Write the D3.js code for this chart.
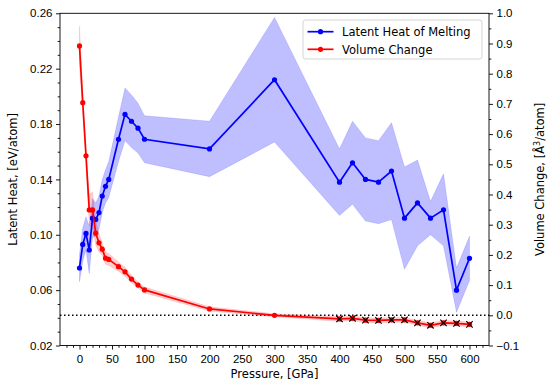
<!DOCTYPE html>
<html>
<head>
<meta charset="utf-8">
<script src="https://cdn.jsdelivr.net/npm/d3@7"></script>
<style>
  body { margin: 0; background: #fff; }
  svg { font-family: "DejaVu Sans", sans-serif; }
  .axis text { font-size: 11.5px; fill: #000; }
  .axis path, .axis line { stroke: #000; stroke-width: 0.9; }
</style>
</head>
<body>
<svg width="555" height="391"></svg>
<script>
// pressure points, GPa
var pressure = [0, 5, 10, 15, 20, 25, 30, 35, 40, 45, 60, 70, 80, 90, 100, 200, 300,
  400, 420, 440, 460, 480, 500, 520, 540, 560, 580, 600];
// latent heat of melting, eV/atom, and its spread
var latent = [0.076, 0.093, 0.101, 0.089, 0.112, 0.111, 0.116, 0.128, 0.135, 0.140, 0.169, 0.187, 0.182, 0.177, 0.169, 0.162, 0.212,
  0.138, 0.152, 0.140, 0.138, 0.146, 0.112, 0.123, 0.112, 0.118, 0.060, 0.083];
var latentErr = [0.010, 0.012, 0.012, 0.017, 0.014, 0.012, 0.012, 0.012, 0.012, 0.013, 0.016, 0.019, 0.019, 0.018, 0.017, 0.020, 0.045,
  0.024, 0.030, 0.030, 0.030, 0.035, 0.037, 0.031, 0.012, 0.026, 0.016, 0.016];
// volume change, A^3/atom, and its spread
var volume = [0.892, 0.704, 0.528, 0.349, 0.349, 0.272, 0.240, 0.219, 0.189, 0.185, 0.161, 0.144, 0.120, 0.100, 0.084, 0.021, 0.000,
  -0.012, -0.010, -0.016, -0.017, -0.015, -0.015, -0.025, -0.033, -0.025, -0.027, -0.030];
var volumeErr = [0.065, 0.03, 0.02, 0.05, 0.06, 0.04, 0.03, 0.02, 0.02, 0.02, 0.015, 0.015, 0.012, 0.01, 0.01, 0.007, 0.005,
  0.008, 0.008, 0.008, 0.008, 0.008, 0.008, 0.008, 0.008, 0.008, 0.008, 0.008];
// points from 400 GPa on are marked with a black cross
var crossFrom = 400;

var xTicks = d3.range(0, 601, 50);
var yLeftTicks = [0.02, 0.06, 0.10, 0.14, 0.18, 0.22, 0.26];
var yRightTicks = d3.range(-0.1, 1.01, 0.1);

var svg = d3.select('svg'),
  mLeft = 60, mRight = 489, mTop = 13.3, mBottom = 345.5;

var x = d3.scaleLinear().domain([-30, 630]).range([mLeft, mRight]);
var yL = d3.scaleLinear().domain([0.02, 0.26]).range([mBottom, mTop]);
var yR = d3.scaleLinear().domain([-0.1, 1.0]).range([mBottom, mTop]);

var data = pressure.map(function(p, i) {
  return {p: p, l: latent[i], le: latentErr[i], v: volume[i], ve: volumeErr[i]};
});

// dotted zero line for volume change
svg.append('line')
  .attr('x1', mLeft).attr('x2', mRight)
  .attr('y1', yR(0)).attr('y2', yR(0))
  .attr('stroke', '#000').attr('stroke-width', 1.5)
  .attr('stroke-dasharray', '1.5,2.5');

// bands
var blueBand = d3.area()
  .x(function(d) { return x(d.p); })
  .y0(function(d) { return yL(d.l - d.le); })
  .y1(function(d) { return yL(d.l + d.le); });
svg.append('path').datum(data).attr('d', blueBand)
  .attr('fill', 'rgba(0,0,255,0.25)')
  .attr('stroke', 'rgba(0,0,255,0.12)').attr('stroke-width', 1);

var redBand = d3.area()
  .x(function(d) { return x(d.p); })
  .y0(function(d) { return yR(d.v - d.ve); })
  .y1(function(d) { return yR(d.v + d.ve); });
svg.append('path').datum(data).attr('d', redBand)
  .attr('fill', 'rgba(255,0,0,0.2)')
  .attr('stroke', 'rgba(255,0,0,0.1)').attr('stroke-width', 1);

// lines
svg.append('path').datum(data)
  .attr('d', d3.line().x(function(d) { return x(d.p); }).y(function(d) { return yL(d.l); }))
  .attr('fill', 'none').attr('stroke', '#0000ff').attr('stroke-width', 1.7);
svg.selectAll('.bdot').data(data).enter().append('circle')
  .attr('cx', function(d) { return x(d.p); })
  .attr('cy', function(d) { return yL(d.l); })
  .attr('r', 2.6).attr('fill', '#0000ff');

svg.append('path').datum(data)
  .attr('d', d3.line().x(function(d) { return x(d.p); }).y(function(d) { return yR(d.v); }))
  .attr('fill', 'none').attr('stroke', '#ff0000').attr('stroke-width', 1.7);
svg.selectAll('.rdot').data(data).enter().append('circle')
  .attr('cx', function(d) { return x(d.p); })
  .attr('cy', function(d) { return yR(d.v); })
  .attr('r', 2.6).attr('fill', '#ff0000');

svg.selectAll('.cross')
  .data(data.filter(function(d) { return d.p >= crossFrom; }))
  .enter().append('path')
  .attr('d', function(d) {
    var cx = x(d.p), cy = yR(d.v), s = 3.2;
    return 'M' + (cx - s) + ',' + (cy - s) + 'L' + (cx + s) + ',' + (cy + s) +
      'M' + (cx - s) + ',' + (cy + s) + 'L' + (cx + s) + ',' + (cy - s);
  })
  .attr('stroke', '#000').attr('stroke-width', 1.2).attr('fill', 'none');

// frame
svg.append('rect')
  .attr('x', mLeft).attr('y', mTop)
  .attr('width', mRight - mLeft).attr('height', mBottom - mTop)
  .attr('fill', 'none').attr('stroke', '#000').attr('stroke-width', 0.9);

// axes
var xMinor = d3.range(-20, 621, 10).filter(function(v) { return v % 50 !== 0; });
svg.append('g').attr('class', 'axis')
  .attr('transform', 'translate(0,' + mBottom + ')')
  .call(d3.axisBottom(x).tickValues(xMinor).tickSize(2.3).tickSizeOuter(0).tickFormat(''));
svg.append('g').attr('class', 'axis')
  .attr('transform', 'translate(0,' + mBottom + ')')
  .call(d3.axisBottom(x).tickValues(xTicks).tickSize(4).tickSizeOuter(0).tickPadding(5));

var yLMinor = d3.range(3, 26).filter(function(v) { return (v - 2) % 4 !== 0; })
  .map(function(v) { return v / 100; });
svg.append('g').attr('class', 'axis')
  .attr('transform', 'translate(' + mLeft + ',0)')
  .call(d3.axisLeft(yL).tickValues(yLMinor).tickSize(2.3).tickSizeOuter(0).tickFormat(''));
svg.append('g').attr('class', 'axis')
  .attr('transform', 'translate(' + mLeft + ',0)')
  .call(d3.axisLeft(yL).tickValues(yLeftTicks).tickSize(4).tickSizeOuter(0).tickPadding(3.5)
    .tickFormat(d3.format('.2f')));

var yRMinor = d3.range(-0.05, 1.0, 0.1);
svg.append('g').attr('class', 'axis')
  .attr('transform', 'translate(' + mRight + ',0)')
  .call(d3.axisRight(yR).tickValues(yRMinor).tickSize(2.3).tickSizeOuter(0).tickFormat(''));
svg.append('g').attr('class', 'axis')
  .attr('transform', 'translate(' + mRight + ',0)')
  .call(d3.axisRight(yR).tickValues(yRightTicks).tickSize(4).tickSizeOuter(0).tickPadding(3.5)
    .tickFormat(d3.format('.1f')));

svg.selectAll('.axis .domain').remove();

// axis labels
svg.append('text')
  .attr('x', (mLeft + mRight) / 2).attr('y', 378)
  .attr('text-anchor', 'middle').style('font-size', '11.5px')
  .text('Pressure, [GPa]');
svg.append('text')
  .attr('transform', 'translate(17,' + (mTop + mBottom) / 2 + ') rotate(-90)')
  .attr('text-anchor', 'middle').style('font-size', '11.5px')
  .text('Latent Heat, [eV/atom]');
var rl = svg.append('text')
  .attr('transform', 'translate(544,' + (mTop + mBottom) / 2 + ') rotate(-90)')
  .attr('text-anchor', 'middle').style('font-size', '11.5px');
rl.append('tspan').text('Volume Change, [Å');
rl.append('tspan').attr('baseline-shift', 'super').style('font-size', '8px').text('3');
rl.append('tspan').text('/atom]');

// legend
var legend = svg.append('g').attr('transform', 'translate(303,20)');
legend.append('rect')
  .attr('width', 179).attr('height', 39).attr('rx', 2.5)
  .attr('fill', 'rgba(255,255,255,0.8)').attr('stroke', '#d0d0d0').attr('stroke-width', 0.9);
var items = [{name: 'Latent Heat of Melting', color: '#0000ff'}, {name: 'Volume Change', color: '#ff0000'}];
items.forEach(function(it, i) {
  var yy = 11.7 + i * 17.6;
  legend.append('line').attr('x1', 4.5).attr('x2', 30.5).attr('y1', yy).attr('y2', yy)
    .attr('stroke', it.color).attr('stroke-width', 1.7);
  legend.append('circle').attr('cx', 17.5).attr('cy', yy).attr('r', 2.6).attr('fill', it.color);
  legend.append('text').attr('x', 39).attr('y', yy + 4.2)
    .style('font-size', '11.5px').text(it.name);
});
</script>
</body>
</html>
